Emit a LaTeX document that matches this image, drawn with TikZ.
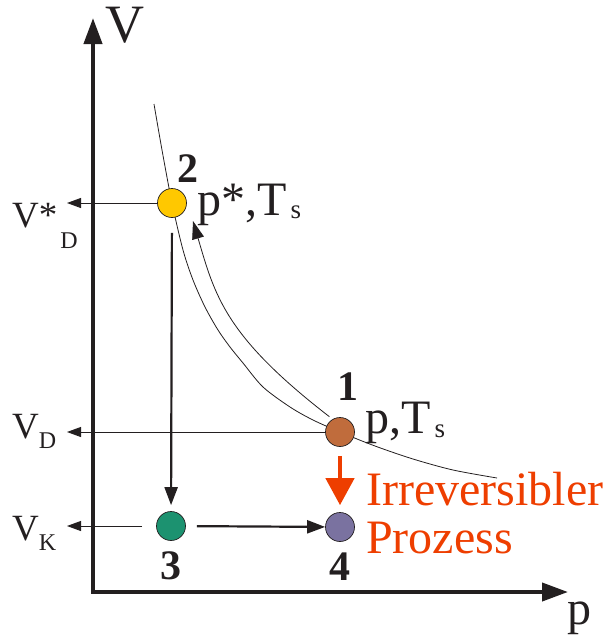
\documentclass[tikz,border=0pt]{standalone}
\usepackage{fontspec}
\setmainfont{Liberation Serif}
\usepackage{tikz}
\usetikzlibrary{arrows.meta,positioning,backgrounds}

\definecolor{dotyellow}{RGB}{255,200,0}
\definecolor{dotbrown}{RGB}{192,108,60}
\definecolor{dotgreen}{RGB}{28,146,112}
\definecolor{dotviolet}{RGB}{122,114,160}
\definecolor{irrred}{RGB}{238,62,0}
\definecolor{inkblack}{RGB}{35,31,32}

\newcommand{\lowsub}[3]{#1\raisebox{-#3}{\fontsize{24}{24}\selectfont #2}}

\begin{document}
\begin{tikzpicture}[
  x=1pt, y={(0pt,-1pt)},
  dot/.style={circle, draw=inkblack, line width=0.7pt, minimum size=29pt, inner sep=0pt},
  num/.style={font=\fontsize{42}{42}\selectfont\bfseries, text=inkblack, inner sep=0pt},
  lbl/.style={font=\fontsize{48}{48}\selectfont, text=inkblack, inner sep=0pt, anchor=base west},
  vlbl/.style={font=\fontsize{37}{37}\selectfont, text=inkblack, inner sep=0pt, anchor=base west},
  axis/.style={draw=inkblack, line width=4pt,
    {Triangle[length=26pt,width=18pt]}-{Triangle[length=26pt,width=18pt]}},
  lead/.style={draw=inkblack, line width=0.9pt, -{Triangle[length=14pt,width=10pt]}},
  flow/.style={draw=inkblack, line width=2.2pt, -{Triangle[length=18pt,width=13pt]}},
  iso/.style={draw=inkblack, line width=0.8pt},
  irrev/.style={draw=irrred, line width=4.5pt, -{Triangle[length=27pt,width=28pt]}}
]
\useasboundingbox (0,0) rectangle (608,638);

% axes
\coordinate (O) at (93,592);
\coordinate (Vtip) at (93,18);
\coordinate (ptip) at (568,592);
\coordinate (lefttip) at (67,0);
\draw[axis] (Vtip) -- (O) -- (ptip);
\node[lbl, font=\fontsize{54}{54}\selectfont] (Vax) at (105,42) {V};
\node[lbl] (pax) at (567,624) {p};

% states
\node[dot, fill=dotyellow] (p2) at (172,203) {};
\node[dot, fill=dotbrown] (p1) at (340,432) {};
\node[dot, fill=dotgreen] (p3) at (171,526) {};
\node[dot, fill=dotviolet] (p4) at (340,527) {};

\node[num, anchor=base west] (n2) at (177,182) {2};
\node[num, anchor=base west] (n1) at (337,400) {1};
\node[num, below=11pt of p3] (n3) {3};
\node[num, below=11pt of p4] (n4) {4};

\node[lbl] (s2) at (197,215) {p*,T\kern4pt\raisebox{-3pt}{\fontsize{27}{27}\selectfont s}};
\node[lbl] (s1) at (365,433) {p,T\kern4pt\raisebox{-4pt}{\fontsize{27}{27}\selectfont s}};

% isotherm and way back to 2
\begin{scope}[on background layer]
\draw[iso] plot[smooth, tension=0.5] coordinates {(154,104) (162,150) (p2.center)
  (183,250) (193,280) (205,307) (218,330) (230,347) (243,363) (263,387)
  (290,407) (313,420) (p1.center) (375,446) (413,459) (453,470) (497,478)};
\end{scope}
\coordinate (tip2) at (193,221);
\draw[iso, shorten <=4pt, -{Triangle[length=18pt,width=12pt]}] (p1.120)
  .. controls (225,336) and (215,296) .. (tip2);

% volumes
\node[vlbl] (vds) at (12,227) {\lowsub{V*\kern3pt}{D}{21pt}};
\node[vlbl] (vd) at (12,438) {\lowsub{V}{D}{10pt}};
\node[vlbl] (vk) at (12,540) {\lowsub{V}{K}{10pt}};
\draw[lead] (p2.west) -- (p2.west -| lefttip);
\draw[lead] (p1.west) -- (p1.west -| lefttip);
\draw[lead, shorten <=14pt] (p3.west) -- (p3.west -| lefttip);

% steps
\draw[flow, shorten <=15pt, shorten >=6pt] (p2) -- (p3);
\draw[flow, shorten <=11pt] (p3) -- (p4);
\draw[irrev, shorten <=9pt, shorten >=7pt] (p1) -- (p4);
\node[font=\fontsize{48}{48}\selectfont, text=irrred, inner sep=0pt, anchor=base west,
  align=left] (irr) at (366,553) {Irreversibler\\Prozess};
\end{tikzpicture}
\end{document}
